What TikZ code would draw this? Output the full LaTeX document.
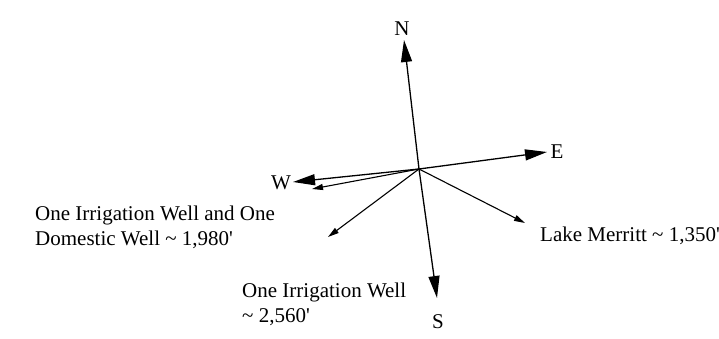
\documentclass[tikz,border=0pt]{standalone}
\usepackage{fontspec}
\setmainfont{Liberation Serif}
\usetikzlibrary{arrows.meta, positioning}
\tikzset{
	dirlabel/.style ={inner sep=0pt, font=\fontsize{21}{25}\selectfont},
	welllabel/.style={inner sep=0pt, anchor=west, align=left, font=\fontsize{21}{25}\selectfont},
	compass/.style  ={-{Triangle[length=22pt, width=11pt]}, line width=1.3pt},
	wellray/.style  ={-{Triangle[length=11pt, width=6pt]}, line width=1.1pt},
}

\begin{document}
\begin{tikzpicture}[x=1pt, y=-1pt]
	\useasboundingbox (0,0) rectangle (719,339);
	\coordinate (c) at (419,169);
	% compass points
	\node[dirlabel] (N) at (402,29) {N};
	\node[dirlabel] (S) at (438,322) {S};
	\node[dirlabel] (E) at (557,152) {E};
	\node[dirlabel] (W) at (281,183) {W};
	\coordinate (tN) at (404,40);
	\coordinate (tS) at (437,298);
	\coordinate (tE) at (547,152);
	\coordinate (tW) at (293,182);
	\foreach \t in {tN,tS,tE,tW} \draw[compass] (c) -- (\t);
	% wells and lake
	\coordinate (tA) at (312,189);
	\coordinate (tB) at (328,237);
	\coordinate (tC) at (525,223);
	\foreach \t in {tA,tB,tC} \draw[wellray] (c) -- (\t);
	\node[welllabel] (domwell) at (35,227.5) {One Irrigation Well and One\\Domestic Well \textasciitilde{} 1,980\textquotesingle};
	\node[welllabel] (irrwell) at (242,304.5) {One Irrigation Well\\\textasciitilde{} 2,560\textquotesingle};
	\node[welllabel] (lake) at (540,236) {Lake Merritt \textasciitilde{} 1,350\textquotesingle};
\end{tikzpicture}
\end{document}
